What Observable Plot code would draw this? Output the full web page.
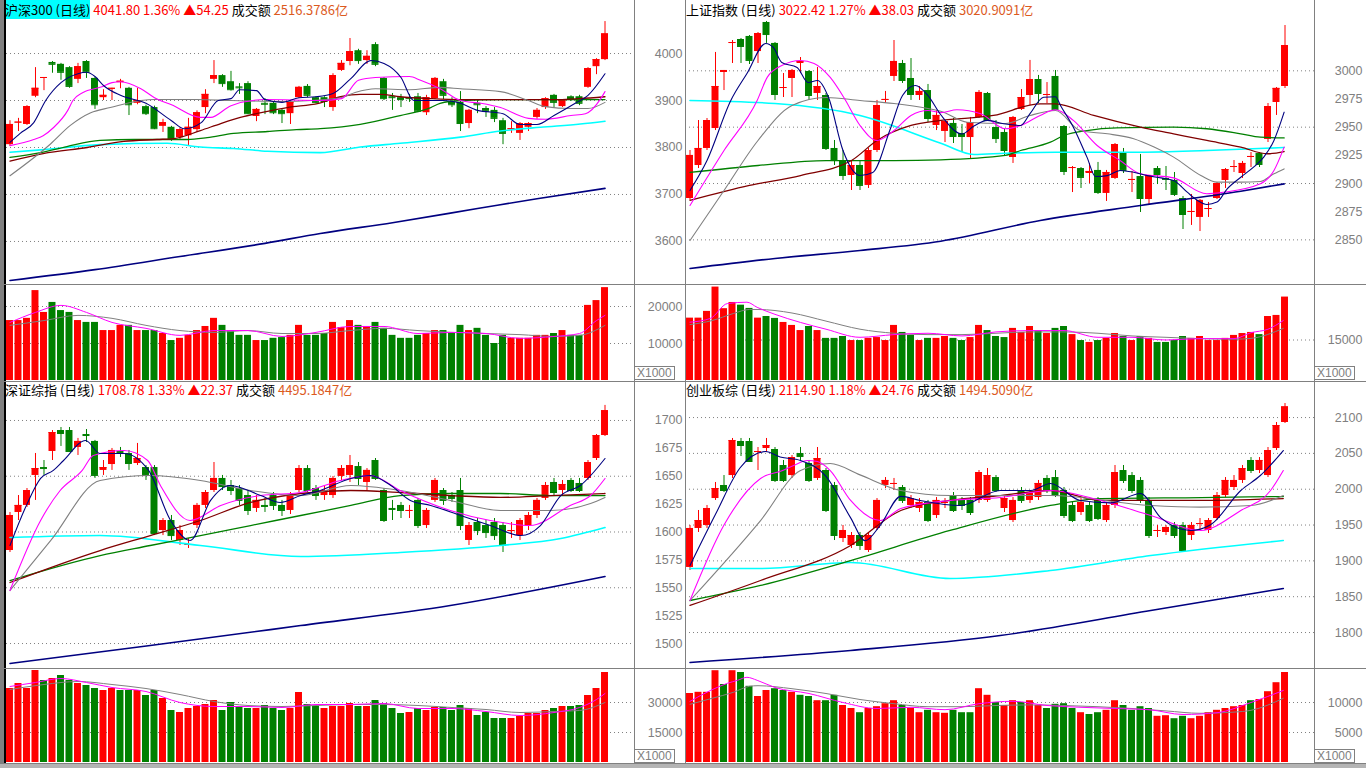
<!DOCTYPE html>
<html><head><meta charset="utf-8">
<script src="https://cdn.jsdelivr.net/npm/d3@7"></script>
<script src="https://cdn.jsdelivr.net/npm/@observablehq/plot@0.6"></script>
<style>
html,body{margin:0;padding:0;background:#fff;}
#root{position:relative;width:1366px;height:768px;overflow:hidden;background:#fff;font-family:"Noto Sans CJK SC","Noto Sans",sans-serif;}
.hdr{position:absolute;font-size:13px;line-height:20px;white-space:nowrap;color:#000;}
.ln{position:absolute;background:#808080;}
.unit{position:absolute;border:1px solid #808080;color:#808080;font:12px "Liberation Sans",sans-serif;line-height:12px;padding:0 2px;background:#fff;}
</style></head><body><div id="root"></div>
<script>
// ===== 沪深300 =====
const hsOpen=[3806,3852,3849,3909,3947,3981,3977,3970,3945,3983,3947,3906,3924,3938,3926,3894,3887,3885,3845,3843,3821,3825,3838,3885,3945,3953,3940,3929,3936,3866,3894,3894,3879,3872,3906,3930,3906,3906,3885,3964,3983,4006,3985,4019,3947,3908,3906,3906,3908,3874,3904,3940,3896,3896,3851,3894,3883,3879,3857,3838,3830,3843,3864,3885,3911,3887,3908,3908,3928,3972,3987];
const hsHigh=[3857,3862,3889,3970,3949,3983,3979,3972,3979,3985,3949,3923,3926,3945,3928,3926,3890,3888,3860,3845,3842,3862,3878,3923,3985,3955,3962,3936,3940,3883,3904,3896,3881,3898,3930,3934,3908,3908,3957,3985,4032,4009,4006,4023,3949,3915,3913,3913,3915,3911,3949,3945,3906,3919,3881,3900,3887,3885,3862,3855,3853,3853,3883,3906,3913,3902,3910,3911,3970,3989,4068];
const hsLow=[3802,3834,3847,3906,3921,3958,3943,3926,3936,3947,3881,3900,3900,3925,3868,3891,3868,3838,3832,3813,3815,3804,3832,3872,3936,3928,3920,3913,3870,3855,3870,3870,3851,3849,3904,3906,3893,3885,3877,3962,3974,3977,3977,3972,3900,3879,3885,3896,3874,3868,3902,3902,3885,3834,3840,3872,3864,3853,3806,3830,3815,3834,3860,3881,3885,3885,3898,3889,3926,3955,3985];
const hsClose=[3849,3854,3887,3926,3949,3977,3960,3930,3972,3960,3891,3911,3926,3941,3891,3900,3872,3840,3853,3819,3838,3843,3874,3913,3953,3936,3923,3927,3872,3881,3892,3874,3872,3896,3928,3911,3896,3898,3953,3979,4004,3985,3994,3977,3904,3906,3902,3904,3877,3906,3947,3911,3891,3851,3879,3891,3877,3862,3830,3840,3851,3851,3879,3904,3896,3900,3902,3894,3968,3987,4041.8];
const hsVol=[16200,16200,16800,24300,18400,21100,18900,18400,16200,15700,15700,13500,13500,14900,14900,13500,13500,13500,12700,10800,11400,12200,13500,14600,16800,14900,13500,12200,12200,10800,10800,11400,11600,12200,14900,12200,12200,12700,15700,14300,16200,14900,14600,15700,14100,12200,11400,11400,12200,12700,13500,13500,12700,14900,13500,14100,12200,10000,12200,11400,11400,11400,12200,12200,12700,13500,12200,12200,20300,21600,25100];
const hsMA5=[[0,3811],[1.2,3830],[2.8,3853],[4.2,3900],[6,3938],[8,3957],[9,3960],[10,3951],[11,3932],[13,3911],[16,3894],[19,3857],[20.5,3840],[22.5,3853],[24.5,3900],[26,3904],[27,3923],[29,3921],[30,3902],[32,3896],[34,3906],[36,3908],[38,3915],[40,3945],[42.5,3985],[44,3979],[46,3949],[47.5,3900],[51,3900],[53,3894],[55,3879],[58,3872],[60,3849],[62,3849],[64,3868],[66.5,3894],[68,3911],[70,3957]];
const hsMA10=[[0,3804],[2.8,3817],[3.9,3825],[5.1,3842],[6.8,3879],[7.4,3900],[8.6,3917],[10.6,3928],[12,3938],[13,3940],[15.4,3925],[17,3906],[19,3891],[22.4,3864],[23.6,3864],[26,3889],[30,3902],[36.5,3900],[39,3904],[41,3943],[43,3949],[47,3951],[48.3,3943],[50.6,3925],[53,3900],[55.4,3894],[57.7,3885],[61,3862],[63,3860],[66,3868],[67.7,3872],[69.5,3904],[70,3919]];
const hsMA20=[[0,3740],[4.8,3808],[7.1,3847],[9.5,3874],[11.8,3885],[15.4,3900],[17,3902],[22,3902],[26,3900],[32,3898],[38.9,3906],[40.6,3917],[43,3925],[47,3923],[50.6,3928],[53,3925],[57.7,3919],[61,3900],[63,3887],[66,3883],[68,3883],[70,3896]];
const hsMA30=[[0,3771],[3.9,3787],[9.1,3800],[13.4,3813],[17.3,3817],[19.3,3819],[22.4,3836],[24.8,3851],[27.1,3864],[30.3,3877],[32.6,3885],[36.3,3894],[38.9,3908],[41.2,3913],[43.6,3913],[45.9,3908],[49.5,3904],[53,3902],[57.7,3902],[64.6,3902],[67,3904],[70,3908]];
const hsMA60=[[0,3779],[3.6,3789],[6.7,3802],[10.6,3815],[14.6,3817],[18.5,3817],[20.9,3817],[23.2,3821],[26.3,3830],[30.3,3834],[33.7,3838],[36.5,3840],[41.2,3849],[45.9,3868],[49.5,3885],[50.6,3894],[53,3900],[57.7,3902],[70,3902]];
const hsMA120=[[0,3790],[3.6,3795],[10.6,3806],[18.5,3809],[22.4,3801],[26.3,3798],[30.3,3792],[36.5,3789],[41.2,3801],[45.9,3809],[53,3822],[57.7,3835],[62.4,3843],[67.1,3850],[70,3856]];
const hsMA250=[[0,3517],[10,3540],[20,3568],[30,3596],[36.5,3617],[45,3640],[55,3670],[62,3691],[70,3713]];
const hsVolMA5=[[0,15700],[3,18400],[6,20300],[9,18400],[12,15700],[16,14100],[20,12200],[24,13500],[28,13500],[32,11900],[36,13000],[40,14600],[44,14600],[48,12700],[52,13000],[56,12700],[60,11400],[64,11900],[67,12700],[69,16200],[70,17600]];
const hsVolMA10=[[0,14900],[4,16200],[8,17600],[12,16800],[16,14900],[20,13500],[24,13000],[28,13500],[32,12700],[36,12700],[40,13500],[44,14100],[48,13500],[52,13000],[56,12700],[60,12400],[64,11900],[67,12200],[70,14900]];
const hsPriceTicks=[3600,3700,3800,3900,4000];
const hsGridTicks=[3600,3700,3800,3900,4000];
const hsVolTicks=[10000,20000];

// ===== 上证指数 =====
const shOpen=[2886.7,2916.0,2931.1,2948.8,2998.5,3024.3,3027.8,3030.5,3017.1,3042.9,3024.3,2984.3,2993.2,3006.5,2999.4,2979.9,2978.1,2931.1,2920.4,2907.1,2916.0,2898.3,2929.3,2973.7,2995.0,3006.5,2993.2,2978.1,2982.5,2951.5,2946.2,2953.3,2944.4,2940.8,2958.6,2979.9,2949.7,2945.3,2923.1,2965.7,2978.1,2992.3,2978.1,2995.0,2950.6,2913.3,2913.3,2908.9,2911.6,2891.2,2904.5,2927.5,2902.7,2906.2,2885.8,2913.3,2904.5,2902.7,2886.7,2874.3,2869.9,2877.0,2886.7,2902.7,2914.2,2908.9,2923.1,2926.6,2939.1,2971.9,2986.1];
const shHigh=[2929.3,2955.9,2957.7,3016.3,3000.3,3026.9,3028.7,3031.3,3034.0,3043.8,3025.1,2997.6,3001.2,3011.8,3000.3,3003.0,2979.9,2938.2,2929.3,2920.4,2920.4,2931.1,2973.7,2981.7,3026.9,3009.2,3010.9,2986.1,2987.9,2964.8,2955.0,2957.7,2952.4,2958.6,2982.5,2980.8,2955.9,2948.8,2959.5,2983.4,3009.2,2995.9,2989.6,3000.3,2951.5,2915.1,2914.2,2917.8,2918.7,2911.6,2935.5,2931.1,2910.7,2925.8,2907.1,2915.1,2915.1,2909.8,2888.5,2890.3,2885.8,2883.2,2900.9,2913.3,2920.4,2919.6,2927.5,2927.5,2971.0,2985.2,3040.2];
const shLow=[2885.0,2913.3,2929.3,2947.0,2982.5,3006.5,3006.5,3005.6,3006.5,3024.3,2973.7,2976.3,2976.3,2997.6,2973.7,2973.7,2929.3,2916.0,2902.7,2893.8,2893.8,2895.6,2927.5,2971.0,2990.5,2988.8,2973.7,2973.7,2954.1,2947.0,2936.4,2935.5,2927.5,2922.2,2957.7,2955.0,2935.5,2924.0,2917.8,2964.8,2969.2,2971.0,2971.0,2964.8,2907.1,2892.0,2895.6,2900.0,2890.3,2884.1,2903.6,2908.9,2892.0,2874.3,2880.5,2899.1,2893.8,2888.5,2859.2,2862.8,2857.4,2869.9,2885.8,2895.6,2909.8,2904.5,2914.2,2914.2,2936.4,2960.4,2984.3];
const shClose=[2924.9,2931.1,2955.9,2986.1,3000.3,3025.1,3021.6,3009.2,3033.1,3032.2,2979.0,2985.2,3000.3,3008.3,2978.1,2986.1,2931.1,2920.4,2907.1,2916.0,2898.3,2929.3,2969.2,2974.6,3008.3,2991.4,2979.0,2981.7,2957.7,2960.4,2955.0,2941.7,2941.7,2954.1,2980.8,2955.9,2939.9,2929.3,2958.6,2976.3,2992.3,2979.9,2979.0,2965.7,2910.7,2914.2,2905.4,2910.7,2892.0,2909.8,2934.6,2911.6,2903.6,2886.7,2907.1,2908.0,2903.6,2890.3,2872.5,2875.2,2885.0,2877.8,2900.0,2912.4,2915.1,2917.8,2924.0,2916.9,2968.3,2984.4,3022.42];
const shVol=[23100,23100,25600,34600,26600,28900,27900,26700,23100,23700,23000,21500,20400,18500,20000,18500,15600,15600,16300,14800,14800,15600,15900,14800,20400,17800,16700,14800,15600,15600,16300,15600,14800,15900,20400,18500,16300,15900,19300,17800,20000,18500,17400,19300,20000,17000,14800,14100,14800,15600,17400,16300,14800,16300,15600,14100,14100,14800,16300,15600,16300,14800,14800,15600,16700,17400,17800,17000,23700,24100,30900];
const shMA5=[[0,2893.8],[2,2920.4],[4.8,2973.7],[6.7,2997.6],[8.9,3024.3],[9.8,3020.7],[10.8,3007.4],[12.6,3003.0],[13.9,2989.6],[15,2991.4],[16.3,2976.3],[18,2929.3],[20,2907.1],[21.5,2909.8],[23.5,2947.0],[25,2978.1],[26.5,2987.0],[28,2978.0],[29.5,2961.0],[32,2944.0],[33.4,2951.0],[35,2956.0],[36.9,2953.0],[38.9,2951.5],[40,2962.0],[41.6,2976.6],[43,2977.0],[43.6,2969.0],[45.1,2950.0],[46.7,2923.4],[47.7,2906.2],[49.1,2907.0],[50.6,2911.6],[52.2,2910.0],[53.8,2907.0],[55.4,2905.0],[56.9,2902.7],[58.5,2892.3],[59.7,2885.0],[60.8,2881.4],[62,2883.5],[63.2,2895.3],[64.8,2905.6],[66.3,2914.5],[67.5,2923.4],[68.7,2938.2],[69.9,2963.3]];
const shMA10=[[0,2880.5],[4,2929.3],[7.9,2973.7],[9.1,2994.4],[10.8,3004.7],[13,3009.2],[14.6,3006.5],[16.5,2994.1],[18.1,2976.3],[20,2951.5],[22,2938.2],[24,2947.0],[26,2960.4],[28,2964.8],[29.5,2962.9],[31.4,2965.4],[34.2,2961.9],[37.1,2948.6],[38.9,2951.5],[41.2,2960.4],[43,2965.4],[45.1,2956.0],[47.9,2933.7],[50.6,2920.4],[53,2908.6],[56.9,2905.0],[60.8,2890.9],[62.8,2892.3],[67.1,2899.7],[68.7,2911.6],[69.9,2932.3]];
const shMA20=[[0,2849.4],[4,2893.8],[8,2938.2],[12,2969.2],[16,2976.3],[20,2973.7],[24,2971.0],[28,2966.6],[29.5,2964.2],[32.6,2954.4],[37.1,2953.3],[40,2960.4],[43,2964.8],[45.9,2947.0],[49.1,2944.1],[52.2,2939.7],[54.6,2932.3],[56.9,2923.4],[60.1,2907.1],[62,2901.2],[64.8,2901.2],[67.1,2901.8],[68.7,2908.6],[69.9,2913.0]];
const shMA30=[[0,2885.0],[7,2898.3],[13,2907.1],[19,2920.4],[22,2938.2],[26,2951.5],[29.5,2956.0],[35.7,2960.4],[41.2,2970.7],[43,2970.7],[47.5,2960.4],[53,2950.0],[56.9,2944.1],[60.8,2938.2],[64.8,2932.3],[67.9,2926.4],[69.9,2928.4]];
const shMA60=[[0,2909.8],[8,2916.0],[16,2920.4],[24,2920.4],[29.5,2921.0],[37.1,2924.9],[38.9,2929.3],[42.4,2936.7],[44,2942.6],[46.7,2947.0],[50.2,2949.4],[56.9,2950.0],[60.8,2948.6],[64.8,2944.1],[67.1,2941.1],[69.9,2940.5]];
const shMA120=[[0,2973.7],[10,2971.0],[20,2960.4],[29.5,2935.8],[33.4,2925.8],[37.1,2926.9],[43,2927.8],[53,2927.8],[60.8,2929.3],[69.9,2931.9]];
const shMA250=[[0,2824.6],[10,2833.5],[20,2840.6],[29.5,2848.8],[41.2,2867.2],[53,2880.5],[64.8,2893.2],[69.9,2899.7]];
const shVolMA5=[[0,21600],[2.4,23000],[4.4,28500],[6.7,29000],[7.9,27100],[10,24500],[13,21500],[16,19000],[20,16000],[24,17000],[28,17500],[32,16500],[36,18000],[40,18500],[44,18500],[48,16000],[52,16000],[56,15000],[60,15500],[64,15500],[66,17700],[68,19000],[69.8,22200]];
const shVolMA10=[[0,20700],[2.6,22200],[5.1,24800],[7,26300],[8,26300],[12,25000],[16,22000],[20,19000],[24,17500],[28,17000],[32,17000],[36,17500],[40,18000],[44,18000],[48,17500],[52,16500],[56,16000],[60,15500],[64,15300],[66,15600],[69.8,19300]];
const shPriceTicks=[2850,2875,2900,2925,2950,2975,3000];
const shGridTicks=[2850,2900,2950,3000];
const shVolTicks=[15000];

// ===== 深证综指 =====
const szOpen=[1583.4,1617.5,1623.8,1650.7,1657.8,1672.2,1691.0,1691.0,1675.8,1687.4,1681.2,1655.2,1660.5,1672.2,1670.4,1661.4,1657.8,1657.8,1601.3,1610.3,1592.4,1587.9,1605.8,1623.8,1637.2,1648.0,1641.7,1639.0,1632.7,1621.1,1623.8,1632.7,1623.8,1619.3,1637.2,1656.9,1639.0,1632.7,1632.7,1649.8,1650.7,1658.7,1644.4,1664.1,1637.2,1621.1,1623.8,1618.4,1628.3,1605.8,1628.3,1637.2,1632.7,1637.2,1592.4,1608.5,1605.8,1608.5,1605.8,1600.4,1596.8,1605.8,1614.8,1630.1,1644.4,1637.2,1646.2,1643.5,1648.0,1665.9,1686.5];
const szHigh=[1617.5,1632.7,1639.0,1670.4,1664.1,1691.0,1693.7,1693.7,1683.9,1691.9,1682.1,1664.1,1674.9,1675.8,1673.1,1679.4,1659.6,1659.6,1612.1,1614.8,1605.8,1594.2,1625.6,1637.2,1662.3,1650.7,1646.2,1641.7,1637.2,1632.7,1630.1,1635.4,1628.3,1635.4,1659.6,1659.6,1641.7,1641.7,1649.8,1659.6,1668.6,1662.3,1656.9,1665.9,1639.0,1628.3,1626.5,1623.8,1630.1,1621.1,1648.0,1639.0,1635.4,1648.0,1608.5,1612.1,1610.3,1612.1,1608.5,1608.5,1612.1,1617.5,1630.1,1644.4,1648.0,1646.2,1648.0,1648.0,1664.1,1687.4,1713.5];
const szLow=[1581.6,1610.3,1622.0,1628.3,1650.7,1664.1,1676.7,1671.3,1668.6,1680.3,1648.0,1650.7,1655.2,1666.8,1655.2,1659.6,1646.2,1596.8,1596.8,1592.4,1587.9,1585.2,1603.1,1621.1,1635.4,1637.2,1632.7,1623.8,1614.8,1617.5,1617.5,1619.3,1613.9,1615.7,1635.4,1635.4,1628.3,1628.3,1630.1,1646.2,1644.4,1641.7,1637.2,1646.2,1608.5,1610.3,1612.1,1612.1,1603.1,1603.1,1626.5,1623.8,1626.5,1601.3,1587.9,1596.8,1594.2,1592.4,1581.6,1594.2,1592.4,1601.3,1612.1,1628.3,1632.7,1632.7,1635.4,1635.4,1646.2,1664.1,1685.6];
const szClose=[1614.8,1623.8,1637.2,1656.9,1656.9,1689.2,1688.3,1672.2,1681.2,1686.5,1650.7,1657.8,1673.1,1671.3,1661.4,1665.9,1650.7,1598.6,1610.3,1596.8,1601.3,1588.8,1623.8,1635.4,1648.0,1640.8,1637.2,1628.3,1619.3,1628.3,1622.9,1623.8,1619.3,1632.7,1656.9,1637.2,1632.7,1637.2,1648.0,1656.9,1659.6,1648.0,1655.2,1648.0,1610.3,1620.2,1619.3,1619.3,1605.8,1619.3,1646.2,1628.3,1630.1,1605.8,1605.8,1601.3,1599.5,1596.8,1587.9,1601.3,1610.3,1614.8,1628.3,1641.7,1635.4,1642.6,1637.2,1637.2,1662.3,1686.4,1708.78];
const szVol=[37000,39500,37000,46000,41000,42000,43500,41000,39500,38500,37000,36000,37000,36000,36000,36000,33500,36000,32000,26000,25000,27000,28000,29000,31000,26000,30000,28000,27000,27000,28500,27000,26000,27000,35000,29000,28000,27000,28000,28000,29500,28000,28000,31000,29500,27000,24500,25000,27000,26000,27500,27500,26000,28500,27000,23500,25000,22000,22000,22000,23000,24500,24500,26000,27000,28000,28000,28500,33500,37000,45000];
const szMA5=[[0,1587.9],[2,1625],[3.6,1648],[5.1,1655.2],[6.3,1664.1],[8.9,1682.1],[10.6,1670.4],[13.4,1670.4],[16.3,1655.2],[18.9,1610.3],[21.2,1592.4],[23.6,1628.3],[25.9,1641.7],[29.5,1632.7],[31.8,1626.5],[34.2,1632.7],[36.5,1637.2],[40.1,1648.0],[42.4,1650.7],[44.8,1641.7],[47.1,1628.3],[49.5,1623.8],[53,1614.8],[56.5,1605.8],[60.1,1596.8],[62.4,1605.8],[64.8,1632.7],[67.1,1641.7],[70,1665.9]];
const szMA10=[[0,1547.5],[3.6,1610.3],[5.9,1637.2],[8.5,1655.2],[9.8,1668.6],[13.4,1673.1],[16.2,1664.1],[17.7,1641.7],[21.2,1610.3],[24.8,1623.8],[29.5,1632.7],[34.2,1635.4],[38.9,1646.2],[42.4,1650.7],[45.9,1637.2],[51.8,1619.3],[56.5,1610.3],[61.2,1605.8],[65.9,1623.8],[68.3,1632.7],[70,1648.0]];
const szMA20=[[0,1547.5],[4.8,1592.4],[10.6,1646.2],[16.5,1650.7],[22.4,1646.2],[28.3,1637.2],[34.2,1632.7],[40.1,1641.7],[45.9,1637.2],[51.8,1628.3],[57.7,1619.3],[63.6,1619.3],[68.3,1625.6],[70,1631.0]];
const szMA30=[[0,1554.7],[10.6,1583.4],[16.5,1596.8],[22.4,1610.3],[28.3,1626.5],[34.2,1634.5],[40.1,1637.2],[45.9,1635.4],[51.8,1632.7],[57.7,1631.0],[63.6,1632.7],[70,1634.5]];
const szMA60=[[0,1556.5],[10.6,1578.9],[16.5,1587.9],[22.4,1596.8],[28.3,1605.8],[34.2,1614.8],[40.1,1623.8],[45.9,1632.7],[51.8,1634.5],[57.7,1634.5],[63.6,1632.7],[70,1632.7]];
const szMA120=[[0,1595.0],[10.6,1596.8],[22.4,1587.9],[34.2,1578.0],[45.9,1581.6],[57.7,1587.9],[64.8,1594.2],[70,1604.0]];
const szMA250=[[0,1482.1],[16.5,1498.2],[34.2,1516.1],[51.8,1534.1],[70,1560.1]];
const szVolMA5=[[0,38000],[3,40000],[6,42000],[9,40000],[12,37500],[16,35500],[20,30000],[24,28000],[28,28000],[32,27500],[36,29000],[40,29000],[44,29500],[48,27000],[52,27000],[56,25500],[60,23500],[64,25000],[67,27500],[69,31500],[70,34500]];
const szVolMA10=[[0,36500],[4,39000],[8,40500],[12,39000],[16,37000],[20,34000],[24,30500],[28,28500],[32,28000],[36,28500],[40,29000],[44,29000],[48,28500],[52,27500],[56,26500],[60,25000],[64,25500],[67,26000],[70,30000]];
const szPriceTicks=[1500,1525,1550,1575,1600,1625,1650,1675,1700];
const szGridTicks=[1500,1550,1600,1650,1700];
const szVolTicks=[15000,30000];

// ===== 创业板综 =====
const cyOpen=[1890.8,1945.2,1949.4,1987.0,2005.2,2019.1,2066.6,2066.6,2051.2,2056.8,2055.4,2033.1,2019.1,2049.8,2035.9,2015.0,2026.1,2005.2,1931.2,1921.5,1935.4,1914.5,1945.2,2005.2,2006.6,2002.4,1977.3,1973.1,1981.5,1963.3,1980.1,1991.2,1984.3,1984.3,1984.3,1984.3,2016.3,1973.1,1956.3,1998.2,1984.3,1988.4,2015.0,2016.3,1998.2,1977.3,1967.5,1977.3,1984.3,1956.3,1977.3,2026.1,2019.1,2012.2,1984.3,1941.0,1939.6,1949.4,1949.4,1935.4,1950.8,1942.4,1959.1,1991.2,2002.4,2012.2,2040.1,2026.1,2019.1,2056.8,2093.1];
const cyHigh=[1949.4,1970.3,1977.3,2009.4,2019.1,2070.8,2070.8,2070.8,2058.2,2070.8,2058.2,2040.1,2047.0,2058.2,2040.1,2058.2,2028.9,2009.4,1949.4,1939.6,1939.6,1939.6,1987.0,2016.3,2015.0,2005.2,1991.2,1987.0,1984.3,1988.4,1987.0,1995.4,1988.4,1988.4,2026.1,2028.9,2019.1,1991.2,1988.4,2002.4,1998.2,2012.2,2019.1,2026.1,2002.4,1981.5,1987.0,1981.5,1988.4,1981.5,2033.1,2033.1,2023.3,2016.3,1988.4,1949.4,1949.4,1953.5,1953.5,1953.5,1959.1,1959.1,1995.4,2016.3,2019.1,2033.1,2044.2,2044.2,2058.2,2093.1,2119.6];
const cyLow=[1886.6,1939.6,1945.2,1984.3,1995.4,2015.0,2045.6,2037.3,2026.1,2051.2,2009.4,2009.4,2015.0,2040.1,2009.4,2012.2,1967.5,1928.4,1925.6,1917.3,1914.5,1911.7,1942.4,2001.0,1998.2,1980.1,1973.1,1967.5,1953.5,1959.1,1973.1,1967.5,1970.3,1963.3,1980.1,1981.5,1995.4,1967.5,1953.5,1980.1,1980.1,1984.3,1994.0,1988.4,1959.1,1953.5,1963.3,1953.5,1956.3,1953.5,1973.1,2008.0,1994.0,1980.1,1931.2,1932.6,1935.4,1931.2,1911.7,1928.4,1942.4,1938.2,1956.3,1988.4,1998.2,2008.0,2021.9,2021.9,2016.3,2054.0,2091.7];
const cyClose=[1945.2,1956.3,1973.1,2001.0,1998.2,2068.0,2061.0,2038.7,2052.6,2061.0,2012.2,2012.2,2044.2,2045.6,2012.2,2042.8,1970.3,1935.4,1942.4,1935.4,1921.5,1935.4,1984.3,2012.2,2008.0,1984.3,1987.0,1981.5,1956.3,1984.3,1981.5,1970.3,1977.3,1967.5,2023.3,2019.1,1998.2,1987.0,1984.3,1984.3,1994.0,2008.0,1998.2,1991.2,1963.3,1956.3,1981.5,1956.3,1959.1,1977.3,2023.3,2012.2,1998.2,1984.3,1935.4,1942.4,1946.6,1935.4,1914.5,1949.4,1952.1,1956.3,1991.2,2012.2,2012.2,2028.9,2026.1,2040.1,2054.0,2088.9,2114.9];
const cyVol=[11500,11700,11700,15300,13000,15300,15000,12700,11000,12000,12300,12000,11700,11200,11000,10300,10300,11200,9500,9000,8300,9000,9300,9800,10300,9500,9000,8300,8700,8300,8200,8700,8300,8300,12300,11200,10000,9500,10300,10000,10300,9500,9000,9700,9800,9000,8300,8000,8300,8700,10300,9500,8700,9300,9000,7700,7800,7300,7700,7300,7700,8300,8700,9000,9300,9500,10300,10500,11800,13300,15000];
const cyMA5=[[0,1893.6],[3,1965],[5.9,2030],[8.9,2052.6],[10.6,2045],[13,2040.1],[16,2018],[18.9,1960],[20.6,1928],[22.4,1950],[24.8,1990],[27.1,1984.3],[31.8,1977.3],[36.5,1998.2],[40.1,1998.2],[42.4,2008],[45.9,1984.3],[49.5,1981],[53,1994],[55.4,1960],[58.9,1942.4],[61.2,1950],[64.8,1998.2],[67.1,2019.1],[69.8,2054.0]];
const cyMA10=[[0,1844.7],[4,1950],[8.3,2015],[10.9,2026.1],[12.2,2033.1],[13.8,2040.1],[15,2038.7],[16.5,2026.1],[18.9,1984.3],[22.4,1956.3],[24.8,1973.1],[30.6,1984.3],[36.5,1988.4],[42.4,1998.2],[48.3,1984.3],[54.2,1963.3],[60.1,1942.4],[64.8,1970.3],[68.3,1998.2],[69.8,2026.1]];
const cyMA20=[[0,1844.7],[8.3,1956.3],[13,2026.1],[16.5,2035.9],[20,2020],[24.8,1998.2],[30.6,1991.2],[42.4,1991.2],[54.2,1977.3],[60,1975],[66,1977.3],[69.8,1991.2]];
const cyMA30=[[0,1837.8],[8.3,1872.6],[18.9,1921.5],[24.8,1970.3],[30.6,1984.3],[36.5,1991.2],[42.4,1998.2],[48.3,1984.3],[60.1,1984.3],[69.8,1987.0]];
const cyMA60=[[0,1844.7],[8.3,1865.7],[18.9,1900.5],[30.6,1942.4],[42.4,1977.3],[48.3,1987.0],[60.1,1988.4],[69.8,1989.8]];
const cyMA120=[[0,1889.4],[8.3,1889.4],[18.9,1897.7],[30.6,1875.4],[42.4,1886.6],[54.2,1907.5],[69.8,1928.4]];
const cyMA250=[[0,1758.2],[18.9,1775.0],[36.5,1795.9],[54.2,1830.8],[69.8,1861.5]];
const cyVolMA5=[[0,10200],[2.4,12000],[4.4,13200],[5.6,13700],[6.7,14200],[7.9,13700],[10,12500],[14,11500],[18,10000],[22,9000],[26,9200],[30,8800],[34,9800],[38,10200],[42,9500],[46,9200],[50,9000],[54,8800],[58,8000],[62,8300],[66,10000],[69.8,12000]];
const cyVolMA10=[[0,9700],[2.6,10700],[5.1,11700],[7,12700],[8,12800],[12,12300],[16,11500],[20,10500],[24,9800],[28,9300],[32,9300],[36,9500],[40,9600],[44,9500],[48,9300],[52,9000],[56,8600],[60,8200],[64,8400],[66,8700],[69.8,10700]];
const cyPriceTicks=[1800,1850,1900,1950,2000,2050,2100];
const cyGridTicks=[1800,1850,1900,1950,2000,2050,2100];
const cyVolTicks=[5000,10000];

// ===== rendering =====
const RED="#ff0000", GREEN="#008000";
const C_MA={ma5:"#000080",ma10:"#ff00ff",ma20:"#808080",ma30:"#800000",ma60:"#008000",ma120:"#00ffff",ma250:"#000080"};
const HALF=0.41;
const root=document.getElementById("root");

function put(el,left,top){el.style.position="absolute";el.style.left=left+"px";el.style.top=top+"px";el.style.display="block";root.appendChild(el);}
function div(cls,left,top,w,h,extra){const d=document.createElement("div");d.className=cls;d.style.left=left+"px";d.style.top=top+"px";if(w!=null)d.style.width=w+"px";if(h!=null)d.style.height=h+"px";if(extra)Object.assign(d.style,extra);root.appendChild(d);return d;}

function rowsOf(o,h,l,c,v){return o.map((x,i)=>({i,o:x,h:h[i],l:l[i],c:c[i],v:v[i],col:c[i]>=x?RED:GREEN}));}
function maLine(data,color,w){return Plot.line(data,{x:d=>d[0],y:d=>d[1],stroke:color,strokeWidth:w,curve:"monotone-x",clip:true});}
function tickText(ticks){return Plot.text(ticks,{y:d=>d,text:d=>String(d),frameAnchor:"right",textAnchor:"end",dx:48,fill:"#808080",fontSize:12.5,fontFamily:"Liberation Sans, Arial, sans-serif"});}

function panel(cfg){
  const rows=rowsOf(cfg.o,cfg.h,cfg.l,cfg.c,cfg.v);
  const common={width:cfg.w,marginLeft:cfg.ml,marginRight:cfg.mr,marginTop:0,marginBottom:0,
    x:{type:"linear",domain:cfg.xd,axis:null},style:{background:"transparent",overflow:"visible"}};
  const price=Plot.plot({...common,height:cfg.ph,y:{domain:cfg.yd,axis:null},
    marks:[
      Plot.ruleY(cfg.grid,{stroke:"#808080",strokeDasharray:"1,3"}),
      Plot.ruleX(rows,{x:"i",y1:"l",y2:"h",stroke:"col",strokeWidth:1}),
      Plot.rect(rows,{x1:d=>d.i-HALF,x2:d=>d.i+HALF,y1:"o",y2:"c",fill:"col"}),
      Plot.ruleY(rows,{x1:d=>d.i-HALF,x2:d=>d.i+HALF,y:"c",stroke:"col"}),
      maLine(cfg.ma250,C_MA.ma250,1.6),
      maLine(cfg.ma120,C_MA.ma120,1.6),
      maLine(cfg.ma60,C_MA.ma60,1.3),
      maLine(cfg.ma30,C_MA.ma30,1.3),
      maLine(cfg.ma20,C_MA.ma20,1.1),
      maLine(cfg.ma10,C_MA.ma10,1.1),
      maLine(cfg.ma5,C_MA.ma5,1.1),
      tickText(cfg.ticks)
    ]});
  put(price,cfg.left,cfg.top);
  const vol=Plot.plot({...common,height:cfg.vh,y:{domain:cfg.vd,axis:null},
    marks:[
      Plot.ruleY(cfg.vticks,{stroke:"#808080",strokeDasharray:"1,3"}),
      Plot.rectY(rows,{x1:d=>d.i-HALF,x2:d=>d.i+HALF,y:"v",fill:"col"}),
      maLine(cfg.vma10,"#808080",1),
      maLine(cfg.vma5,"#ff00ff",1),
      tickText(cfg.vticks)
    ]});
  put(vol,cfg.left,cfg.top+cfg.ph);
  const hd=div("hdr",cfg.hx,cfg.hy);
  const nameStyle=cfg.active?"background:#00ffff;":"";
  hd.innerHTML=`<span style="${nameStyle}">${cfg.name} (日线)</span> <span style="color:#ff0000">${cfg.last} ${cfg.pct} ▲${cfg.chg}</span> <span>成交额</span> <span style="color:#dc5a1e">${cfg.amt}</span>`;
}

const XL=[-0.41,73.47], XR=[-0.53,73.47];
panel({left:0,top:16,w:685,ml:6,mr:51,xd:XL,ph:268,vh:96,yd:[3508.4,4078.8],vd:[0,25946],
  o:hsOpen,h:hsHigh,l:hsLow,c:hsClose,v:hsVol,ma5:hsMA5,ma10:hsMA10,ma20:hsMA20,ma30:hsMA30,ma60:hsMA60,ma120:hsMA120,ma250:hsMA250,
  vma5:hsVolMA5,vma10:hsVolMA10,ticks:hsPriceTicks,grid:hsGridTicks,vticks:hsVolTicks,
  hx:5,hy:0,name:"沪深300",last:"4041.80",pct:"1.36%",chg:"54.25",amt:"2516.3786亿",active:true});
panel({left:685,top:16,w:681,ml:0,mr:52,xd:XR,ph:268,vh:96,yd:[2810.4,3048.2],vd:[0,35556],
  o:shOpen,h:shHigh,l:shLow,c:shClose,v:shVol,ma5:shMA5,ma10:shMA10,ma20:shMA20,ma30:shMA30,ma60:shMA60,ma120:shMA120,ma250:shMA250,
  vma5:shVolMA5,vma10:shVolMA10,ticks:shPriceTicks,grid:shGridTicks,vticks:shVolTicks,
  hx:686,hy:0,name:"上证指数",last:"3022.42",pct:"1.27%",chg:"38.03",amt:"3020.9091亿"});
panel({left:0,top:398,w:685,ml:6,mr:51,xd:XL,ph:270,vh:94,yd:[1477.6,1719.7],vd:[0,47000],
  o:szOpen,h:szHigh,l:szLow,c:szClose,v:szVol,ma5:szMA5,ma10:szMA10,ma20:szMA20,ma30:szMA30,ma60:szMA60,ma120:szMA120,ma250:szMA250,
  vma5:szVolMA5,vma10:szVolMA10,ticks:szPriceTicks,grid:szGridTicks,vticks:szVolTicks,
  hx:5,hy:380,name:"深证综指",last:"1708.78",pct:"1.33%",chg:"22.37",amt:"4495.1847亿"});
panel({left:685,top:398,w:681,ml:0,mr:52,xd:XR,ph:270,vh:94,yd:[1749.8,2126.6],vd:[0,15667],
  o:cyOpen,h:cyHigh,l:cyLow,c:cyClose,v:cyVol,ma5:cyMA5,ma10:cyMA10,ma20:cyMA20,ma30:cyMA30,ma60:cyMA60,ma120:cyMA120,ma250:cyMA250,
  vma5:cyVolMA5,vma10:cyVolMA10,ticks:cyPriceTicks,grid:cyGridTicks,vticks:cyVolTicks,
  hx:686,hy:380,name:"创业板综",last:"2114.90",pct:"1.18%",chg:"24.76",amt:"1494.5090亿"});

// frame lines
div("ln",0,0,4,768,{background:"#808080"});
div("ln",4,0,2,768,{background:"#000"});
div("ln",634,0,1,764);
div("ln",685,0,1,764);
div("ln",1314,0,1,764);
div("ln",0,284,1366,1);
div("ln",0,381,1366,1);
div("ln",0,668,1366,1);
div("ln",0,763,1366,1);
div("ln",0,764,1366,4,{background:"#b4b4b4"});
// unit boxes
[[634,366],[1314,366],[634,749],[1314,749]].forEach(([x,y])=>{const d=div("unit",x,y);d.textContent="X1000";});
</script></body></html>
